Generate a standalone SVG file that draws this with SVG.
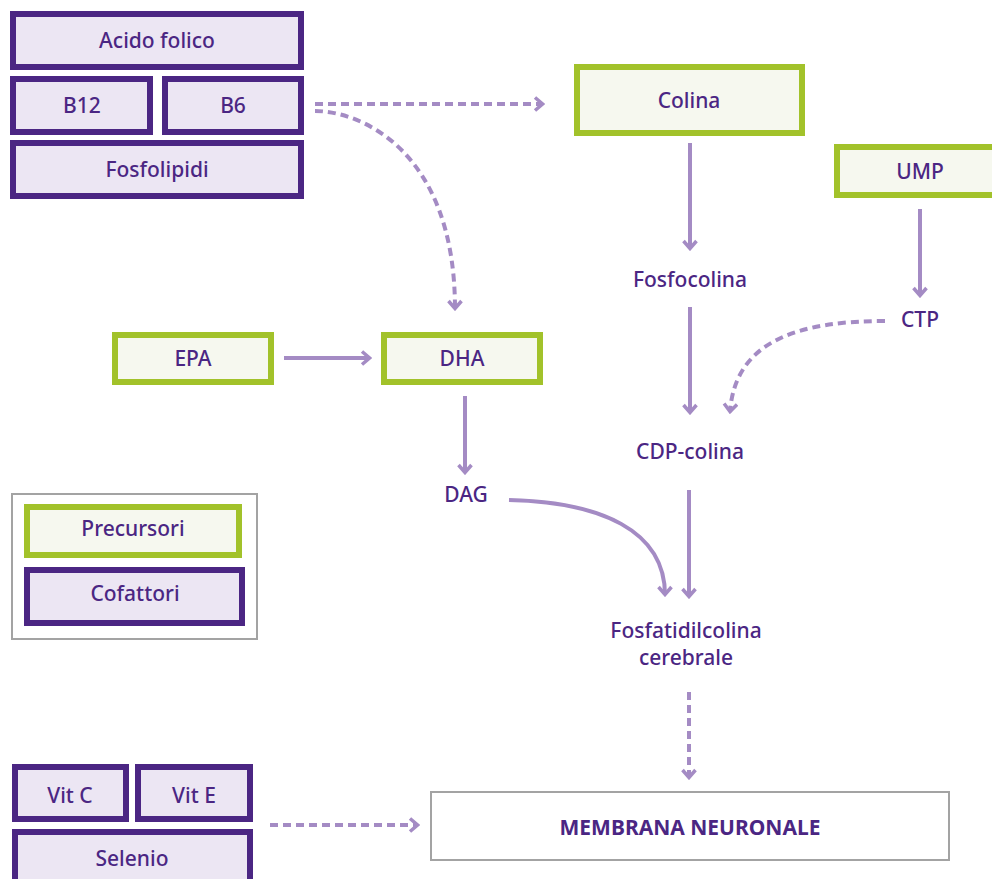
<svg xmlns="http://www.w3.org/2000/svg" width="992" height="879" viewBox="0 0 992 879">
<style>
.cof{fill:#ece6f3;stroke:#4b2683;stroke-width:6}
.pre{fill:#f6f8ef;stroke:#a2c22a;stroke-width:6}
.box{fill:#ffffff;stroke:#a3a3a3;stroke-width:2}
text{font-family:"Noto Sans","Open Sans","Liberation Sans",sans-serif;font-size:21px;fill:#4b2683;text-anchor:middle;font-weight:500}
.b{font-weight:bold}
.ln{fill:none;stroke:#a48bc4;stroke-width:4}
.ds{stroke-dasharray:8 5}
.mk{fill:none;stroke:#a48bc4;stroke-width:3.5;stroke-linejoin:miter}
</style>
<defs>
<marker id="ah" viewBox="0 0 12 16" refX="10" refY="8" markerWidth="12" markerHeight="16" markerUnits="userSpaceOnUse" orient="auto">
<path class="mk" d="M2,1.5 L9.5,8 L2,14.5"/>
</marker>
</defs>
<rect x="12" y="494" width="245" height="145" class="box"/>
<g id="acido"><rect x="13" y="14" width="288" height="53" class="cof"/><text x="157" y="48">Acido folico</text></g>
<g id="b12"><rect x="13" y="79" width="137" height="53" class="cof"/><text x="82" y="113">B12</text></g>
<g id="b6"><rect x="165" y="79" width="136" height="53" class="cof"/><text x="233" y="113">B6</text></g>
<g id="fosfolipidi"><rect x="13" y="143" width="288" height="53" class="cof"/><text x="157" y="177">Fosfolipidi</text></g>
<g id="colina"><rect x="577" y="67" width="225" height="66" class="pre"/><text x="689" y="108">Colina</text></g>
<g id="ump"><rect x="837" y="147" width="160" height="48" class="pre"/><text x="920" y="179">UMP</text></g>
<g id="epa"><rect x="115" y="335" width="156" height="47" class="pre"/><text x="193" y="366">EPA</text></g>
<g id="dha"><rect x="384" y="335" width="156" height="47" class="pre"/><text x="462" y="366">DHA</text></g>
<g id="fosfocolina"><text x="690" y="287">Fosfocolina</text></g>
<g id="ctp"><text x="920" y="327">CTP</text></g>
<g id="cdp"><text x="690" y="459">CDP-colina</text></g>
<g id="dag"><text x="466" y="502">DAG</text></g>
<g id="fosfatidil"><text x="686" y="638">Fosfatidilcolina</text><text x="686" y="665">cerebrale</text></g>
<g id="precursori"><rect x="27" y="507" width="212" height="48" class="pre"/><text x="133" y="536">Precursori</text></g>
<g id="cofattori"><rect x="27" y="570" width="215" height="53" class="cof"/><text x="135" y="601">Cofattori</text></g>
<g id="vitc"><rect x="15" y="767" width="111" height="52" class="cof"/><text x="70" y="803">Vit C</text></g>
<g id="vite"><rect x="138" y="767" width="112" height="52" class="cof"/><text x="194" y="803">Vit E</text></g>
<g id="selenio"><rect x="15" y="832" width="235" height="60" class="cof"/><text x="132" y="866">Selenio</text></g>
<g id="membrana"><rect x="431" y="792" width="518" height="68" class="box"/><text x="690" y="835" class="b">MEMBRANA NEURONALE</text></g>
<g id="connectors">
<path class="ln ds" d="M315,104 L543,104" marker-end="url(#ah)"/>
<path class="ln ds" d="M315,111 C360,111 455,150 455,309" marker-end="url(#ah)"/>
<path class="ln" d="M690,143 L690,249" marker-end="url(#ah)"/>
<path class="ln" d="M690,307 L690,413" marker-end="url(#ah)"/>
<path class="ln" d="M920,209 L920,296" marker-end="url(#ah)"/>
<path class="ln ds" d="M885,321 C800,321 735,340 730,412" marker-end="url(#ah)"/>
<path class="ln" d="M284,358 L370,358" marker-end="url(#ah)"/>
<path class="ln" d="M465,396 L465,473" marker-end="url(#ah)"/>
<path class="ln" d="M509,500 C600,502 665,530 665,595" marker-end="url(#ah)"/>
<path class="ln" d="M689,490 L689,597" marker-end="url(#ah)"/>
<path class="ln ds" d="M689,692 L689,778" marker-end="url(#ah)"/>
<path class="ln ds" d="M270,825 L418,825" marker-end="url(#ah)"/>
</g>
</svg>
